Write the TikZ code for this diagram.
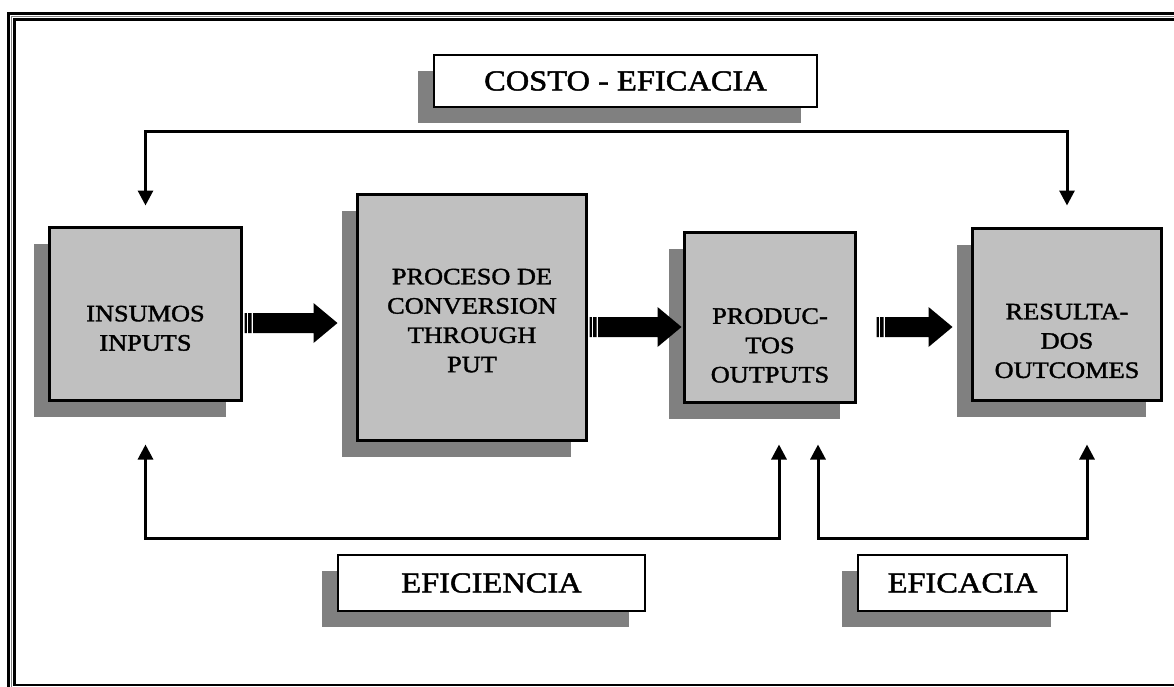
\documentclass[tikz,border=0pt]{standalone}
\usepackage{fontspec}
\setmainfont{Liberation Serif}[FakeStretch=1.12,FakeBold=1.6]
\usetikzlibrary{arrows.meta,shadows,calc}
\definecolor{boxgray}{HTML}{C0C0C0}
\definecolor{shadowgray}{HTML}{808080}
\newcommand\blockarrow[2]{%
  \fill let \p1=(#1), \p2=(#2) in
    (\x1,\y1-10pt) rectangle (\x1+2.4pt,\y1+10pt)
    (\x1+3.7pt,\y1-10pt) rectangle (\x1+7pt,\y1+10pt)
    (\x1+8.5pt,\y1-10pt) -- (\x2-24pt,\y1-10pt) -- (\x2-24pt,\y1-20pt) -- (\x2,\y1)
    -- (\x2-24pt,\y1+20pt) -- (\x2-24pt,\y1+10pt) -- (\x1+8.5pt,\y1+10pt) -- cycle;}
\begin{document}
\begin{tikzpicture}[x=1pt,y=-1pt,
  procbox/.style={draw=black, line width=3pt, fill=boxgray, inner sep=0pt,
    general shadow={fill=shadowgray, shadow xshift=-16pt, shadow yshift=-16pt}},
  labelbox/.style={draw=black, line width=2pt, fill=white, inner sep=0pt,
    font=\fontsize{29}{34}\selectfont,
    general shadow={fill=shadowgray, shadow xshift=-16pt, shadow yshift=-16pt}},
  boxtext/.style={anchor=base, align=center, inner sep=0pt,
    font=\fontsize{23.5}{29.3}\selectfont},
  conn/.style={line width=3pt},
  tip/.tip={Triangle[width=15pt,length=15pt]}
]
\useasboundingbox (0,0) rectangle (1174,686);
% frame
\draw[line width=2.6pt] (8.7,13.3) rectangle (1190,700);
\draw[shadowgray, line width=1pt] (11.6,16.2) rectangle (1185,695);
\draw[line width=2.4pt] (14.5,19.5) rectangle (1178,684.8);

% boxes
\node[procbox, minimum width=192pt, minimum height=173pt] (ins) at (145.5,314) {};
\node[procbox, minimum width=229pt, minimum height=246pt] (proc) at (472,317.5) {};
\node[procbox, minimum width=171pt, minimum height=170pt] (prod) at (770,317.5) {};
\node[procbox, minimum width=189pt, minimum height=172pt] (res) at (1067,314.5) {};

% text (base anchor = baseline of last line)
\node[boxtext] (insT) at ($(ins.north)+(0,95.3+29.3)$) {INSUMOS\\INPUTS};
\node[boxtext] (procT) at ($(proc.north)+(0,91.3+3*29.3)$) {PROCESO DE\\CONVERSION\\THROUGH\\PUT};
\node[boxtext] (prodT) at ($(prod.north)+(0,92.8+2*29.3)$) {PRODUC-\\TOS\\OUTPUTS};
\node[boxtext] (resT) at ($(res.north)+(0,92.3+2*29.3)$) {RESULTA-\\DOS\\OUTCOMES};

% labels
\node[labelbox, minimum width=383pt, minimum height=52pt] (costo) at (625.5,81) {COSTO - EFICACIA};
\node[labelbox, minimum width=307pt, minimum height=56pt] (efic) at (491.5,583) {EFICIENCIA};
\node[labelbox, minimum width=209pt, minimum height=56pt] (efca) at (962.5,583) {EFICACIA};

% block arrows
\coordinate (a1s) at ($(ins.east)+(1.5,9)$);
\coordinate (a1t) at ($(proc.west)+(-18.5,0)$);
\coordinate (a2s) at ($(proc.east)+(1.5,9.5)$);
\coordinate (a2t) at ($(prod.west)+(-1.5,0)$);
\coordinate (a3s) at ($(prod.east)+(19.5,9.5)$);
\coordinate (a3t) at ($(res.west)+(-18.5,0)$);
\blockarrow{a1s}{a1t}
\blockarrow{a2s}{a2t}
\blockarrow{a3s}{a3t}

% connectors
\coordinate (topbar) at (0,131);
\coordinate (botbar) at (0,538);
\draw[conn, tip-tip] ($(ins.north)+(0,-20.5)$) -- (ins.north |- topbar)
  -- (res.north |- topbar) -- ($(res.north)+(0,-21.5)$);
\coordinate (pL) at ($(prod.south)+(9,40.5)$);
\coordinate (pR) at ($(prod.south)+(48,40.5)$);
\coordinate (rB) at ($(res.south)+(20,42.5)$);
\draw[conn, tip-tip] ($(ins.south)+(0,42.5)$) -- (ins.south |- botbar)
  -- (pL |- botbar) -- (pL);
\draw[conn, tip-tip] (pR) -- (pR |- botbar) -- (rB |- botbar) -- (rB);
\end{tikzpicture}
\end{document}
